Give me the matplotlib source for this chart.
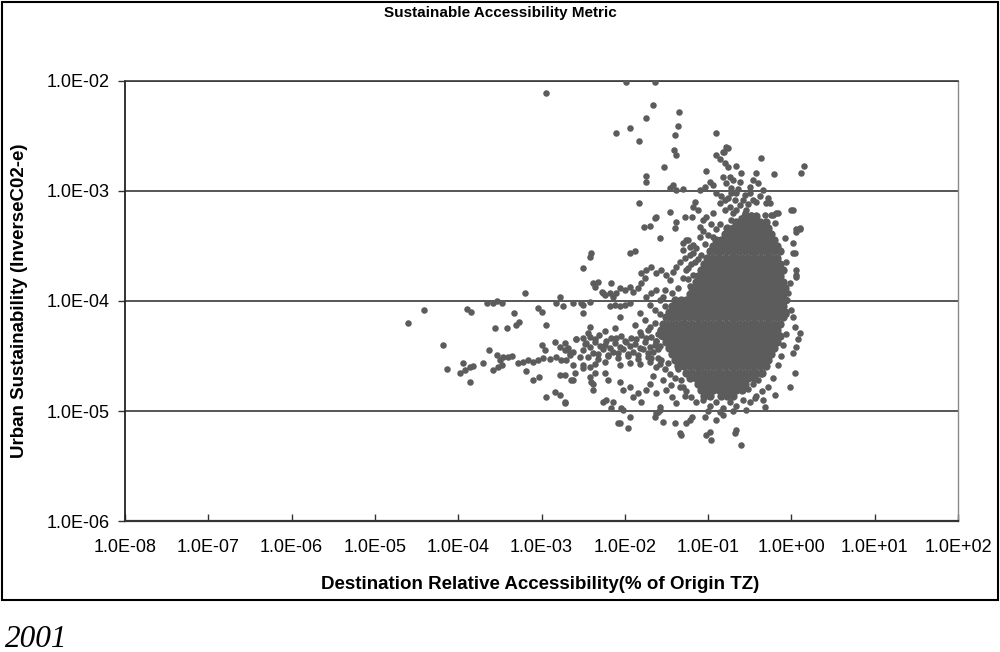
import matplotlib.pyplot as plt
import numpy as np
from matplotlib.patches import Rectangle

plt.rcParams['font.family'] = ['Liberation Sans', 'DejaVu Sans']

# all values are log10 of the plotted quantities
x_ticks = [-8, -7, -6, -5, -4, -3, -2, -1, 0, 1, 2]
x_tick_labels = ['1.0E-08', '1.0E-07', '1.0E-06', '1.0E-05', '1.0E-04', '1.0E-03',
                 '1.0E-02', '1.0E-01', '1.0E+00', '1.0E+01', '1.0E+02']
y_ticks = [-6, -5, -4, -3, -2]
y_tick_labels = ['1.0E-06', '1.0E-05', '1.0E-04', '1.0E-03', '1.0E-02']

# saturated core of the cloud, one list of x per y row
core_y = [-3.23, -3.28, -3.34, -3.39, -3.45, -3.50, -3.55, -3.61, -3.66, -3.72, -3.77,
          -3.83, -3.88, -3.94, -3.99, -4.05, -4.10, -4.15, -4.21, -4.26, -4.32, -4.37,
          -4.43, -4.48, -4.54, -4.59, -4.65, -4.70, -4.75, -4.81, -4.86]
core_x = [
    [-0.56, -0.49, -0.42],
    [-0.66, -0.59, -0.52, -0.45, -0.38, -0.31],
    [-0.77, -0.70, -0.63, -0.56, -0.49, -0.42, -0.35, -0.28],
    [-0.80, -0.73, -0.66, -0.59, -0.52, -0.45, -0.38, -0.31, -0.24],
    [-0.91, -0.84, -0.77, -0.70, -0.63, -0.56, -0.49, -0.42, -0.35, -0.28, -0.21],
    [-0.94, -0.87, -0.80, -0.73, -0.66, -0.59, -0.52, -0.45, -0.38, -0.31, -0.24, -0.17],
    [-0.98, -0.91, -0.84, -0.77, -0.70, -0.63, -0.56, -0.49, -0.42, -0.35, -0.28, -0.21, -0.14],
    [-1.01, -0.94, -0.87, -0.80, -0.73, -0.66, -0.59, -0.52, -0.45, -0.38, -0.31, -0.24, -0.17],
    [-1.05, -0.98, -0.91, -0.84, -0.77, -0.70, -0.63, -0.56, -0.49, -0.42, -0.35, -0.28, -0.21, -0.14],
    [-1.08, -1.01, -0.94, -0.87, -0.80, -0.73, -0.66, -0.59, -0.52, -0.45, -0.38, -0.31, -0.24, -0.17, -0.10],
    [-1.12, -1.05, -0.98, -0.91, -0.84, -0.77, -0.70, -0.63, -0.56, -0.49, -0.42, -0.35, -0.28, -0.21, -0.14],
    [-1.15, -1.08, -1.01, -0.94, -0.87, -0.80, -0.73, -0.66, -0.59, -0.52, -0.45, -0.38, -0.31, -0.24, -0.17, -0.10],
    [-1.19, -1.12, -1.05, -0.98, -0.91, -0.84, -0.77, -0.70, -0.63, -0.56, -0.49, -0.42, -0.35, -0.28, -0.21, -0.14, -0.08],
    [-1.22, -1.15, -1.08, -1.01, -0.94, -0.87, -0.80, -0.73, -0.66, -0.59, -0.52, -0.45, -0.38, -0.31, -0.24, -0.17, -0.10],
    [-1.40, -1.33, -1.26, -1.19, -1.12, -1.05, -0.98, -0.91, -0.84, -0.77, -0.70, -0.63, -0.56, -0.49, -0.42, -0.35, -0.28, -0.21, -0.14, -0.08],
    [-1.43, -1.36, -1.29, -1.22, -1.15, -1.08, -1.01, -0.94, -0.87, -0.80, -0.73, -0.66, -0.59, -0.52, -0.45, -0.38, -0.31, -0.24, -0.17, -0.10],
    [-1.47, -1.40, -1.33, -1.26, -1.19, -1.12, -1.05, -0.98, -0.91, -0.84, -0.77, -0.70, -0.63, -0.56, -0.49, -0.42, -0.35, -0.28, -0.21, -0.14, -0.08],
    [-1.50, -1.43, -1.36, -1.29, -1.22, -1.15, -1.08, -1.01, -0.94, -0.87, -0.80, -0.73, -0.66, -0.59, -0.52, -0.45, -0.38, -0.31, -0.24, -0.17, -0.10],
    [-1.54, -1.47, -1.40, -1.33, -1.26, -1.19, -1.12, -1.05, -0.98, -0.91, -0.84, -0.77, -0.70, -0.63, -0.56, -0.49, -0.42, -0.35, -0.28, -0.21, -0.14],
    [-1.57, -1.50, -1.43, -1.36, -1.29, -1.22, -1.15, -1.08, -1.01, -0.94, -0.87, -0.80, -0.73, -0.66, -0.59, -0.52, -0.45, -0.38, -0.31, -0.24, -0.17],
    [-1.54, -1.47, -1.40, -1.33, -1.26, -1.19, -1.12, -1.05, -0.98, -0.91, -0.84, -0.77, -0.70, -0.63, -0.56, -0.49, -0.42, -0.35, -0.28, -0.21, -0.14],
    [-1.50, -1.43, -1.36, -1.29, -1.22, -1.15, -1.08, -1.01, -0.94, -0.87, -0.80, -0.73, -0.66, -0.59, -0.52, -0.45, -0.38, -0.31, -0.24, -0.17],
    [-1.47, -1.40, -1.33, -1.26, -1.19, -1.12, -1.05, -0.98, -0.91, -0.84, -0.77, -0.70, -0.63, -0.56, -0.49, -0.42, -0.35, -0.28, -0.21],
    [-1.43, -1.36, -1.29, -1.22, -1.15, -1.08, -1.01, -0.94, -0.87, -0.80, -0.73, -0.66, -0.59, -0.52, -0.45, -0.38, -0.31, -0.24],
    [-1.40, -1.33, -1.26, -1.19, -1.12, -1.05, -0.98, -0.91, -0.84, -0.77, -0.70, -0.63, -0.56, -0.49, -0.42, -0.35, -0.28],
    [-1.36, -1.29, -1.22, -1.15, -1.08, -1.01, -0.94, -0.87, -0.80, -0.73, -0.66, -0.59, -0.52, -0.45, -0.38, -0.31],
    [-1.26, -1.19, -1.12, -1.05, -0.98, -0.91, -0.84, -0.77, -0.70, -0.63, -0.56, -0.49, -0.42, -0.35],
    [-1.22, -1.15, -1.08, -1.01, -0.94, -0.87, -0.80, -0.73, -0.66, -0.59, -0.52, -0.45],
    [-1.12, -1.05, -0.98, -0.91, -0.84, -0.77, -0.70, -0.63, -0.56],
    [-1.08, -1.01, -0.94, -0.87, -0.80, -0.73, -0.66, -0.59],
    [-1.05, -0.98, -0.84, -0.77, -0.70],
]

# points around the core (top spike, right edge, underneath)
halo = [
    (-0.90, -2.47), (-0.76, -2.61), (-0.81, -2.65), (-0.91, -2.67), (-0.86, -2.71),
    (-0.80, -2.75), (-0.76, -2.78), (-0.78, -2.60), (-0.82, -2.65), (-0.66, -2.77),
    (-0.36, -2.70), (0.15, -2.77), (0.12, -2.84), (-1.02, -2.82), (-0.60, -2.84),
    (-0.42, -2.84), (-0.21, -2.85), (-1.42, -2.95), (-1.46, -2.97), (-1.38, -2.99),
    (-1.30, -2.98), (-0.98, -2.92), (-1.04, -2.96), (-0.94, -2.95), (-0.74, -2.87),
    (-0.78, -2.93), (-0.72, -2.97), (-0.46, -2.90), (-0.40, -2.93), (-0.50, -2.96),
    (-0.82, -2.87), (-0.70, -2.90), (-0.62, -2.92), (-0.34, -2.99), (-1.10, -2.99),
    (-1.16, -3.10), (-1.18, -3.15), (-1.12, -3.17), (0.00, -3.17), (-0.18, -3.20),
    (-0.20, -3.29), (0.06, -3.35), (0.02, -3.47), (0.02, -3.56), (-0.08, -3.43),
    (0.10, -3.34), (0.06, -3.72), (0.06, -3.76), (-1.30, -3.47), (-1.24, -3.45),
    (-1.18, -3.49), (-1.10, -3.33), (-1.06, -3.26), (-1.02, -3.24), (-0.94, -3.20),
    (-0.86, -3.11), (-0.80, -3.08), (-0.74, -3.15), (-0.62, -3.13), (-0.54, -3.17),
    (-0.42, -3.10), (-0.30, -3.11), (-0.22, -3.22), (-0.90, -3.02), (-0.84, -3.05),
    (-0.66, -3.02), (-0.56, -3.04), (-0.38, -3.05), (-0.28, -3.06), (-0.26, -3.11),
    (-0.32, -3.22), (-0.16, -3.20), (-0.24, -3.22), (-1.26, -3.45), (-1.22, -3.51),
    (-1.30, -3.54), (-1.18, -3.56), (-1.19, -3.24), (-0.80, -3.17), (-0.70, -3.20),
    (-0.66, -3.17), (-0.56, -3.20), (-0.48, -3.22), (-0.60, -3.25), (-0.72, -3.26),
    (-0.50, -3.02), (-0.46, -3.08), (-0.52, -3.12), (-0.58, -3.08), (-0.68, -3.08),
    (-0.76, -3.06), (-0.72, -3.02), (-0.64, -2.98), (-1.06, -3.36), (-1.00, -3.40),
    (-0.96, -3.30), (-1.10, -3.42), (-1.14, -3.52), (-1.04, -3.48), (-1.08, -3.58),
    (-1.12, -3.62), (-1.20, -3.66), (-1.26, -3.72), (-1.18, -3.76), (-1.24, -3.80),
    (-0.90, -3.35), (-0.86, -3.30), (-0.94, -3.42),
    (0.02, -3.17), (0.06, -3.37), (0.10, -3.35), (0.04, -3.56), (0.06, -3.78),
    (-0.02, -3.84), (-0.04, -3.93), (0.00, -4.08), (0.02, -4.15), (0.04, -4.24),
    (0.10, -4.29), (0.08, -4.35), (0.06, -4.42), (0.02, -4.47), (0.04, -4.65),
    (-0.02, -4.78), (-0.20, -4.85), (-0.32, -4.96), (-0.06, -3.65), (-0.05, -3.99),
    (-0.06, -4.12), (-0.07, -4.30), (-0.10, -4.40), (-0.12, -4.50), (-0.16, -4.58),
    (-0.22, -4.70), (-0.28, -4.78), (-0.35, -4.82), (-0.42, -4.86),
    (-1.14, -4.92), (-1.06, -4.90), (-0.98, -4.95), (-0.90, -4.92), (-0.82, -4.97),
    (-0.74, -4.92), (-0.66, -4.95), (-0.58, -4.90), (-0.50, -4.92), (-0.44, -4.88),
    (-1.00, -5.00), (-0.86, -5.01), (-0.70, -5.00), (-0.55, -4.99), (-1.20, -4.87),
    (-1.26, -4.82), (-1.30, -4.78), (-0.52, -4.80), (-0.46, -4.75), (-0.40, -4.72),
    (-0.36, -4.66),
]

# band of points reaching left from the core
left_arm = [
    (-2.50, -3.70), (-2.36, -3.87), (-2.27, -3.92), (-2.24, -3.95), (-2.18, -3.93),
    (-2.14, -3.96), (-2.10, -3.93), (-2.16, -3.84), (-2.06, -3.88), (-2.00, -3.90),
    (-1.94, -3.87), (-1.90, -3.92), (-1.84, -3.88), (-1.80, -3.84), (-1.76, -3.79),
    (-1.80, -3.75), (-1.74, -3.72), (-1.68, -3.69), (-1.62, -3.75), (-1.56, -3.72),
    (-1.50, -3.76), (-1.46, -3.81), (-1.42, -3.74), (-1.38, -3.69), (-1.34, -3.65),
    (-2.50, -4.04), (-2.18, -4.05), (-2.12, -4.04), (-2.06, -4.05), (-2.00, -4.04),
    (-1.94, -4.02), (-1.58, -3.99), (-1.54, -3.96), (-1.74, -3.96), (-1.68, -3.93),
    (-1.62, -3.90), (-1.82, -4.11), (-2.06, -4.15), (-1.28, -3.61), (-1.22, -3.58),
    (-1.16, -3.65), (-1.24, -3.70), (-1.30, -3.79), (-1.22, -3.86), (-1.36, -3.88),
    (-1.43, -3.93), (-1.52, -3.90), (-1.70, -4.04), (-1.64, -4.08), (-1.76, -4.17),
    (-1.88, -4.22), (-1.72, -4.26),
    (-2.24, -4.27), (-2.12, -4.25), (-1.82, -4.28), (-1.70, -4.24), (-1.58, -4.27),
    (-2.42, -4.33), (-2.31, -4.31), (-2.16, -4.34), (-2.04, -4.32), (-1.92, -4.34),
    (-1.80, -4.31), (-1.68, -4.33), (-1.56, -4.32),
    (-2.48, -4.39), (-2.36, -4.37), (-2.24, -4.40), (-2.12, -4.38), (-2.00, -4.36),
    (-1.88, -4.39), (-1.76, -4.37), (-1.64, -4.40),
    (-2.50, -4.45), (-2.38, -4.47), (-2.26, -4.44), (-2.14, -4.46), (-2.02, -4.44),
    (-1.90, -4.46), (-1.78, -4.44), (-1.66, -4.46),
    (-2.44, -4.51), (-2.32, -4.53), (-2.20, -4.50), (-2.08, -4.52), (-1.96, -4.50),
    (-1.84, -4.53), (-1.72, -4.51), (-1.60, -4.52),
    (-2.36, -4.57), (-2.24, -4.55), (-2.06, -4.58), (-1.94, -4.56), (-1.82, -4.57),
    (-1.70, -4.55), (-1.58, -4.57),
    (-2.36, -4.35), (-2.22, -4.36), (-2.10, -4.34), (-1.98, -4.37), (-1.86, -4.35),
    (-1.74, -4.34), (-1.62, -4.36),
    (-2.42, -4.42), (-2.30, -4.41), (-2.18, -4.43), (-2.06, -4.42), (-1.94, -4.41),
    (-1.82, -4.43), (-1.70, -4.42), (-1.58, -4.41),
    (-2.32, -4.48), (-2.20, -4.49), (-2.08, -4.47), (-1.96, -4.48), (-1.84, -4.49),
    (-1.72, -4.47),
    (-2.72, -4.45), (-2.66, -4.47), (-2.70, -4.54), (-2.58, -4.35), (-2.54, -4.51),
    (-2.46, -4.38), (-2.62, -4.58), (-2.50, -4.58),
    (-2.50, -4.61), (-2.42, -4.60), (-2.36, -4.65), (-2.40, -4.74), (-2.24, -4.65),
    (-2.20, -4.72), (-2.06, -4.74), (-2.02, -4.81), (-1.94, -4.78), (-1.90, -4.87),
    (-1.84, -4.84), (-1.80, -4.92), (-1.74, -4.81), (-1.70, -4.75), (-1.62, -4.84),
    (-1.54, -4.72), (-1.50, -4.81), (-1.43, -4.87), (-1.38, -4.93), (-1.34, -4.78),
    (-1.58, -4.96), (-1.52, -4.62), (-1.46, -4.66), (-1.40, -4.70), (-1.48, -4.56),
    (-1.56, -4.54), (-1.62, -4.60), (-1.66, -4.68), (-1.36, -4.62), (-1.32, -4.72),
    (-1.28, -4.86), (-1.44, -4.76), (-1.68, -4.52), (-1.60, -4.44), (-1.62, -4.36),
    (-1.60, -4.30), (-1.64, -4.20), (-1.58, -4.12), (-1.52, -4.05),
]

# isolated points away from the cloud
outliers = [
    (-4.60, -4.20), (-4.41, -4.08), (-4.18, -4.40), (-4.13, -4.62), (-3.98, -4.65),
    (-3.92, -4.63), (-3.86, -4.60), (-3.82, -4.59), (-3.94, -4.56), (-3.86, -4.74),
    (-3.89, -4.07), (-3.85, -4.10), (-3.65, -4.02), (-3.58, -4.02), (-3.53, -4.00),
    (-3.47, -4.02), (-3.63, -4.45), (-3.70, -4.56), (-3.56, -4.25), (-3.41, -4.25),
    (-3.33, -4.11), (-3.31, -4.22), (-3.27, -4.19), (-3.58, -4.63), (-3.52, -4.60),
    (-3.47, -4.58), (-3.50, -4.54), (-3.53, -4.49), (-3.46, -4.51), (-3.40, -4.51),
    (-3.35, -4.50), (-3.20, -3.93), (-3.19, -4.64), (-3.28, -4.56), (-3.22, -4.55),
    (-3.16, -4.54), (-3.10, -4.55), (-3.04, -4.54), (-2.98, -4.52), (-3.10, -4.72),
    (-3.03, -4.69), (-3.04, -4.06), (-3.00, -4.10), (-2.95, -4.22), (-3.00, -4.40),
    (-2.96, -4.45), (-2.95, -4.87), (-2.84, -4.83), (-2.78, -4.85), (-2.72, -4.92),
    (-2.78, -4.67), (-2.72, -4.67), (-2.78, -3.96), (-2.74, -4.05), (-2.82, -4.02),
    (-2.84, -4.37), (-2.78, -4.42), (-2.72, -4.38), (-2.68, -4.43), (-2.90, -4.53),
    (-2.82, -4.51), (-2.76, -4.54), (-2.66, -4.49), (-2.62, -4.46), (-2.62, -4.02),
    (-2.52, -4.02), (-2.50, -4.11), (-2.42, -4.01), (-2.62, -4.72), (-2.58, -4.35),
    (-2.50, -4.34), (-2.44, -4.29), (-2.42, -4.24), (-2.38, -3.84), (-2.32, -3.83),
    (-2.26, -3.93), (-2.42, -4.69), (-2.38, -4.75), (-2.38, -4.81), (-2.26, -4.92),
    (-2.94, -2.11), (-1.99, -2.01), (-1.64, -2.01), (-1.66, -2.22), (-1.75, -2.34),
    (-1.35, -2.28), (-2.11, -2.47), (-1.94, -2.43), (-1.83, -2.55), (-1.36, -2.41),
    (-1.40, -2.49), (-1.41, -2.63), (-1.38, -2.67), (-1.53, -2.78), (-1.75, -2.86),
    (-1.75, -2.92), (-1.83, -3.11), (-1.62, -3.24), (-1.70, -3.32), (-1.77, -3.33),
    (-1.38, -3.28), (-1.40, -3.34), (-1.46, -3.19), (-1.28, -3.24), (-1.58, -3.43),
    (-1.94, -3.56), (-1.88, -3.55), (-2.40, -3.56), (-2.42, -3.60), (-1.64, -3.25),
    (-1.54, -5.10), (-1.40, -5.11), (-1.34, -5.20), (-1.32, -5.22), (-1.22, -5.08),
    (-1.19, -5.05), (-0.98, -5.19), (-0.96, -5.26), (-0.66, -5.17), (-0.68, -5.20),
    (-0.60, -5.31), (-1.04, -5.05), (-0.90, -5.08), (-0.82, -5.04), (-1.64, -5.05),
    (-1.60, -5.01), (-2.06, -5.11), (-1.94, -5.05), (-1.96, -5.15), (-1.62, -5.02),
    (-1.58, -4.99), (-2.22, -4.90), (-2.14, -4.92), (-2.02, -4.99), (-2.72, -4.93),
    (-2.64, -4.72), (-2.60, -4.65), (-2.16, -4.97), (-2.08, -5.11), (-2.04, -4.97),
    (-1.26, -5.11), (-1.02, -5.22), (-0.34, -4.90),
]

core_lx = [x for row in core_x for x in row]
core_ly = [y for y, row in zip(core_y, core_x) for _ in row]
pts_lx, pts_ly = [], []
for group in (halo, left_arm, outliers):
    pts_lx += [p[0] for p in group]
    pts_ly += [p[1] for p in group]

fig = plt.figure(figsize=(10, 6.52), dpi=100)
ax = fig.add_axes([0.125, 0.2009, 0.833, 0.6749])

dot_color = '#5c5c5c'
# the core markers overlap completely in the original, drawn a bit larger so no gaps show
ax.scatter(10.0 ** np.array(core_lx), 10.0 ** np.array(core_ly), s=36, marker='o',
           color=dot_color, linewidths=0, zorder=3)
ax.scatter(10.0 ** np.array(pts_lx), 10.0 ** np.array(pts_ly), s=22, marker='o',
           color=dot_color, linewidths=0, zorder=3)

ax.set_xscale('log')
ax.set_yscale('log')
ax.set_xlim(1e-8, 1e2)
ax.set_ylim(1e-6, 1e-2)
ax.minorticks_off()
ax.set_xticks([10.0 ** k for k in x_ticks])
ax.set_xticklabels(x_tick_labels)
ax.set_yticks([10.0 ** k for k in y_ticks])
ax.set_yticklabels(y_tick_labels)
ax.tick_params(axis='x', direction='in', length=5, width=1, pad=13, labelsize=13, color='#333333')
ax.tick_params(axis='y', direction='out', length=5, width=1, pad=6, labelsize=13, color='#333333')

ax.yaxis.grid(True, color='#3a3a3a', linewidth=1.2)
ax.set_axisbelow(True)
ax.spines['left'].set_color('#222222')
ax.spines['left'].set_linewidth(1.3)
ax.spines['bottom'].set_color('#333333')
ax.spines['bottom'].set_linewidth(1.6)
ax.spines['top'].set_color('#3a3a3a')
ax.spines['top'].set_linewidth(1.2)
ax.spines['right'].set_color('#8a8a8a')
ax.spines['right'].set_linewidth(1.0)

fig.text(0.5, 0.980, 'Sustainable Accessibility Metric', ha='center', va='center',
         fontsize=11, fontweight='bold')
fig.text(0.54, 0.103, 'Destination Relative Accessibility(% of Origin TZ)', ha='center',
         va='center', fontsize=13.5, fontweight='bold')
fig.text(0.020, 0.538, 'Urban Sustainability (InverseC02-e)', ha='center', va='center',
         rotation=90, fontsize=13.5, fontweight='bold')
fig.text(0.005, 0.008, '2001', ha='left', va='baseline', fontsize=22.5,
         family='Liberation Serif', style='italic')

fig.patches.append(Rectangle((0.002, 0.080), 0.996, 0.917, transform=fig.transFigure,
                             fill=False, edgecolor='black', linewidth=1.5))

fig.savefig('out.png', dpi=100)
